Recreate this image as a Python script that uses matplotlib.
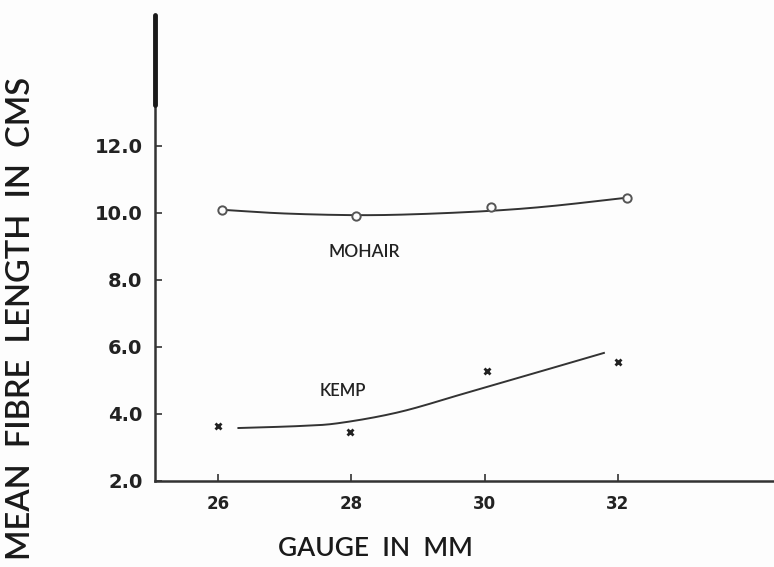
import numpy as np
import matplotlib
matplotlib.use("Agg")
import matplotlib.pyplot as plt

# ---- data ----
x_ticks = [26, 28, 30, 32]
x_tick_labels = ["26", "28", "30", "32"]
y_ticks = [2.0, 4.0, 6.0, 8.0, 10.0, 12.0]
y_tick_labels = ["2.0", "4.0", "6.0", "8.0", "10.0", "12.0"]

mohair_x = [26.07, 28.08, 30.1, 32.13]
mohair_y = [10.09, 9.91, 10.18, 10.45]
kemp_x = [26.0, 27.98, 30.03, 32.0]
kemp_y = [3.64, 3.46, 5.28, 5.55]

# hand-drawn smooth curves (samples)
mohair_curve_x = [26.07, 27.0, 28.08, 29.0, 30.1, 31.0, 32.13]
mohair_curve_y = [10.09, 9.98, 9.93, 9.96, 10.06, 10.2, 10.45]
kemp_curve_x = [26.31, 27.23, 27.83, 28.73, 29.73, 30.72, 31.79]
kemp_curve_y = [3.58, 3.64, 3.73, 4.06, 4.63, 5.2, 5.82]

ink = "#333333"


def catmull_rom(xs, ys, n=40):
    p = np.column_stack([xs, ys]).astype(float)
    p = np.vstack([2 * p[0] - p[1], p, 2 * p[-1] - p[-2]])
    out = []
    t = np.linspace(0, 1, n, endpoint=False)[:, None]
    for i in range(1, len(p) - 2):
        p0, p1, p2, p3 = p[i - 1], p[i], p[i + 1], p[i + 2]
        seg = 0.5 * ((2 * p1) + (-p0 + p2) * t + (2 * p0 - 5 * p1 + 4 * p2 - p3) * t ** 2
                     + (-p0 + 3 * p1 - 3 * p2 + p3) * t ** 3)
        out.append(seg)
    out.append(p[-2][None, :])
    out = np.vstack(out)
    return out[:, 0], out[:, 1]


fig = plt.figure(figsize=(7.74, 5.67), dpi=100)
fig.patch.set_facecolor("#fdfdfd")
ax = fig.add_axes([0.2003, 0.1517, 0.7997, 0.8218])
ax.set_facecolor("#fdfdfd")
ax.set_xlim(25.06, 34.34)
ax.set_ylim(2.0, 15.9)

for s in ["top", "right"]:
    ax.spines[s].set_visible(False)
for s in ["left", "bottom"]:
    ax.spines[s].set_color(ink)
    ax.spines[s].set_linewidth(1.8)

# thick upper part of the hand-drawn y axis
ax.plot([25.06, 25.06], [13.22, 15.9], color="#1a1a1a", lw=3.5,
        solid_capstyle="round", clip_on=False, zorder=5)

ax.set_xticks(x_ticks)
ax.set_xticklabels(x_tick_labels, fontsize=12, fontweight="bold", color="#222222")
ax.set_yticks(y_ticks)
ax.set_yticklabels(y_tick_labels, fontsize=14, fontweight="bold", color="#222222")
ax.tick_params(axis="both", direction="in", length=5, width=1.2, color=ink)
ax.tick_params(axis="x", pad=10)
ax.tick_params(axis="y", pad=9)

# smooth curves
xm, ym = catmull_rom(mohair_curve_x, mohair_curve_y)
ax.plot(xm, ym, color=ink, lw=1.4)
xk, yk = catmull_rom(kemp_curve_x, kemp_curve_y)
ax.plot(xk, yk, color=ink, lw=1.4)

ax.plot(mohair_x, mohair_y, "o", ms=6, mfc="#fdfdfd", mec="#555555", mew=1.4)
ax.plot(kemp_x, kemp_y, "x", ms=4.5, mec="#222222", mew=2)

label_font = ["Lato", "DejaVu Sans"]
ax.text(28.2, 8.84, "MOHAIR", ha="center", va="center", fontsize=12.5,
        family=label_font, fontweight="semibold", color="#222222")
ax.text(27.87, 4.69, "KEMP", ha="center", va="center", fontsize=12,
        family=label_font, fontweight="semibold", color="#222222")

fig.text(375 / 774, 1 - 548 / 567, "GAUGE  IN  MM", ha="center", va="center",
         fontsize=19, family=label_font, fontweight="semibold", color="#1a1a1a")
fig.text(21 / 774, 1 - 318 / 567, "MEAN  FIBRE  LENGTH  IN  CMS", ha="center",
         va="center", rotation=90, fontsize=23.5, family=label_font,
         fontweight="semibold", color="#1a1a1a")

fig.savefig("out.png", dpi=100, facecolor=fig.get_facecolor())
